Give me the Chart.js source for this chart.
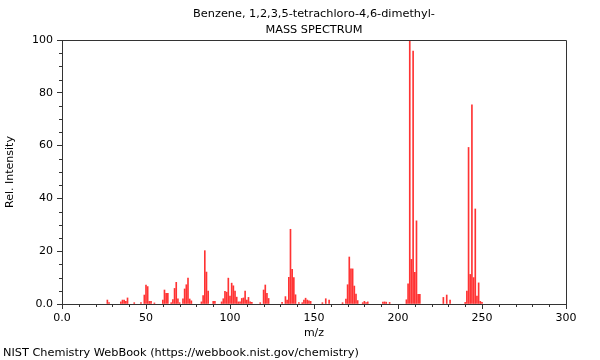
<!DOCTYPE html>
<html>
<head>
<meta charset="utf-8">
<script src="https://cdn.jsdelivr.net/npm/chart.js@4"></script>
<style>
html,body{margin:0;padding:0;background:#fff;}
canvas{display:block;}
</style>
</head>
<body>
<canvas id="c" width="600" height="360"></canvas>
<script>
const titleLines = ["Benzene, 1,2,3,5-tetrachloro-4,6-dimethyl-", "MASS SPECTRUM"];
const footerText = "NIST Chemistry WebBook (https://webbook.nist.gov/chemistry)";
const xTitle = "m/z";
const yTitle = "Rel. Intensity";

const mz = [27,28,35,36,37,38,39,43,47,49,50,51,52,53,55,60,61,62,63,65,66,67,68,69,70,
  72,73,74,75,76,77,83,84,85,86,87,90,91,95,96,97,98,99,100,101,102,103,104,105,106,
  107,108,109,110,111,112,113,118,120,121,122,123,131,133,134,135,136,137,138,139,141,
  143,144,145,146,147,148,155,157,159,167,169,170,171,172,173,174,175,176,179,180,181,182,
  191,192,193,195,205,206,207,208,209,210,211,212,213,227,229,231,240,241,242,243,244,245,
  246,247,248,249,250];
const intensity = [1.5,0.5,0.8,1.5,1.5,1.0,2.3,0.5,0.5,3.4,7.2,6.6,1.0,1.0,0.4,1.5,5.3,4.0,4.0,0.5,1.7,5.9,8.2,2.0,0.5,
  2.0,5.7,7.3,9.8,1.9,1.2,0.8,3.2,20.2,12.1,4.9,1.0,1.0,0.8,2.0,4.8,4.5,9.8,3.0,7.9,6.9,4.9,2.6,0.8,0.8,
  2.1,2.3,4.9,1.5,2.5,0.8,0.6,0.5,5.3,7.2,4.0,2.1,0.6,2.8,1.5,10.1,28.3,13.1,10.0,3.5,0.5,
  0.5,1.5,2.2,1.5,1.2,1.0,0.5,2.0,1.5,0.5,1.9,7.3,17.8,13.3,13.3,6.8,3.8,1.3,0.5,1.0,0.5,0.8,
  0.7,0.8,0.7,0.6,1.6,7.6,100,16.9,95.8,12.0,31.5,3.7,3.7,2.5,3.4,1.5,0.6,4.9,59.3,11.2,75.4,10.0,
  36.0,3.0,8.0,1.0,0.6];

const xMajor = [0,50,100,150,200,250,300];
const xLabels = ["0.0","50","100","150","200","250","300"];
const yMajor = [0,20,40,60,80,100];
const yLabels = ["0.0","20","40","60","80","100"];

const FONT = "DejaVu Sans";
const AXIS = "#333";

const extras = {
  id: "extras",
  afterDraw(chart) {
    const ctx = chart.ctx;
    const a = chart.chartArea;
    const xs = chart.scales.x, ys = chart.scales.y;
    ctx.save();
    ctx.strokeStyle = AXIS;
    ctx.lineWidth = 1;
    ctx.beginPath();
    ctx.moveTo(Math.round(a.left) + 0.5, Math.round(a.top) + 0.5);
    ctx.lineTo(Math.round(a.right) + 0.5, Math.round(a.top) + 0.5);
    ctx.lineTo(Math.round(a.right) + 0.5, Math.round(a.bottom) + 0.5);
    ctx.stroke();
    ctx.beginPath();
    for (let v = 0; v <= 300; v += 10) {
      if (v % 50 === 0) continue;
      const px = Math.round(xs.getPixelForValue(v)) + 0.5;
      ctx.moveTo(px, a.bottom);
      ctx.lineTo(px, a.bottom + 3);
    }
    for (let v = 0; v <= 100; v += 5) {
      if (v % 20 === 0) continue;
      const py = Math.round(ys.getPixelForValue(v)) + 0.5;
      ctx.moveTo(a.left, py);
      ctx.lineTo(a.left - 3, py);
    }
    ctx.stroke();
    ctx.fillStyle = "#000";
    ctx.font = "11.3px '" + FONT + "'";
    ctx.textAlign = "center";
    ctx.textBaseline = "middle";
    const cx = (a.left + a.right) / 2;
    ctx.fillText(titleLines[0], cx, 14);
    ctx.fillText(titleLines[1], cx, 30);
    ctx.textAlign = "left";
    ctx.fillText(footerText, 3, 353);
    ctx.restore();
  }
};

new Chart(document.getElementById("c"), {
  type: "bar",
  data: {
    datasets: [{
      data: mz.map((m, i) => ({ x: m, y: intensity[i] })),
      backgroundColor: "rgba(255,0,0,0.8)",
      borderWidth: 0,
      barThickness: 1,
      grouped: false
    }]
  },
  options: {
    responsive: false,
    animation: false,
    devicePixelRatio: 1,
    layout: { padding: { left: 0, right: 34, top: 40, bottom: 20 } },
    plugins: { legend: { display: false }, tooltip: { enabled: false }, title: { display: false } },
    scales: {
      x: {
        type: "linear",
        offset: false,
        min: 0, max: 300,
        afterFit(s) { s.height = 36; },
        afterBuildTicks(s) { s.ticks = xMajor.map(v => ({ value: v })); },
        ticks: {
          autoSkip: false, maxRotation: 0, padding: 3,
          color: "#000",
          font: { family: FONT, size: 11 },
          callback: (v) => xLabels[xMajor.indexOf(v)]
        },
        grid: { offset: false, drawOnChartArea: false, drawTicks: true, tickLength: 5, color: AXIS },
        border: { display: true, color: AXIS },
        title: { display: true, text: xTitle, color: "#000", font: { family: FONT, size: 11 }, padding: { top: 0, bottom: 0 } }
      },
      y: {
        min: 0, max: 100,
        afterFit(s) { s.width = 62; },
        afterBuildTicks(s) { s.ticks = yMajor.map(v => ({ value: v })); },
        ticks: {
          autoSkip: false, padding: 4,
          color: "#000",
          font: { family: FONT, size: 11 },
          callback: (v) => yLabels[yMajor.indexOf(v)]
        },
        grid: { drawOnChartArea: false, drawTicks: true, tickLength: 5, color: AXIS },
        border: { display: true, color: AXIS },
        title: { display: true, text: yTitle, color: "#000", font: { family: FONT, size: 11 }, padding: { top: 4, bottom: 0 } }
      }
    }
  },
  plugins: [extras]
});
</script>
</body>
</html>
